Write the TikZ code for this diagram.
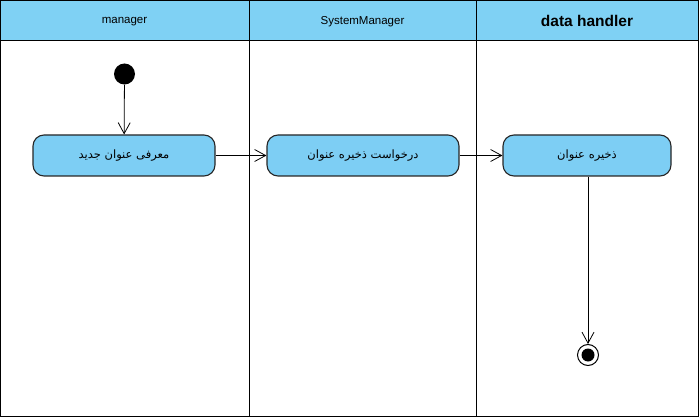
\documentclass[tikz,border=0pt]{standalone}
\usepackage{fontspec}
\setmainfont{Liberation Sans}
\newfontfamily\arabicfont[Script=Arabic]{DejaVu Sans}
\TeXXeTstate=1
\usepackage{tikz}
\usetikzlibrary{arrows.meta,positioning}
\definecolor{laneblue}{HTML}{7FD1F4}
\definecolor{actblue}{HTML}{7DCEF4}

\begin{document}
\begin{tikzpicture}[x=1pt,y=-1pt,
  action/.style={draw=black!85,fill=actblue,rounded corners=11pt,line width=1.1pt,minimum height=41pt,inner sep=0pt,font=\arabicfont\fontsize{11.5}{13}\selectfont},
  flow/.style={-{Straight Barb[length=11pt,width=12pt]},line width=0.8pt},
  lanehead/.style={font=\fontsize{11.5}{13}\selectfont}]
\useasboundingbox (0,0) rectangle (699,417);
\fill[laneblue] (0,0) rectangle (698,40);
\draw[line width=0.9pt] (0,0) rectangle (698,416);
\draw[line width=0.9pt] (0,40) -- (698,40);
\draw[line width=0.9pt] (249,0) -- (249,416);
\draw[line width=0.9pt] (476,0) -- (476,416);
\node[lanehead] (manager) at (124.5,21.5) {manager};
\node[lanehead] (sysmanager) at (362.5,21.5) {SystemManager};
\node[lanehead,font=\bfseries\fontsize{15.5}{17}\selectfont] (datahandler) at (587,21) {data handler};
\node[circle,fill=black,minimum size=21pt,inner sep=0pt] (start) at (124.5,74) {};
\node[action,minimum width=182pt] (newtitle) at (124,155.5) {\beginR معرفی عنوان جدید\endR};
\node[action,minimum width=192pt] (request) at (363,155.5) {\beginR درخواست ذخیره عنوان\endR};
\node[action,minimum width=168pt] (save) at (587,155.5) {\beginR ذخیره عنوان\endR};
\node[circle,draw=black,line width=1pt,fill=white,minimum size=21pt,inner sep=0pt] (end) at (588,355) {};
\fill[black] (end.center) circle (6.5pt);
\draw[flow] (start) -- (newtitle);
\draw[flow] (newtitle) -- (request);
\draw[flow] (request) -- (save);
\draw[flow] (save.south -| end.north) -- (end);
\end{tikzpicture}
\end{document}
